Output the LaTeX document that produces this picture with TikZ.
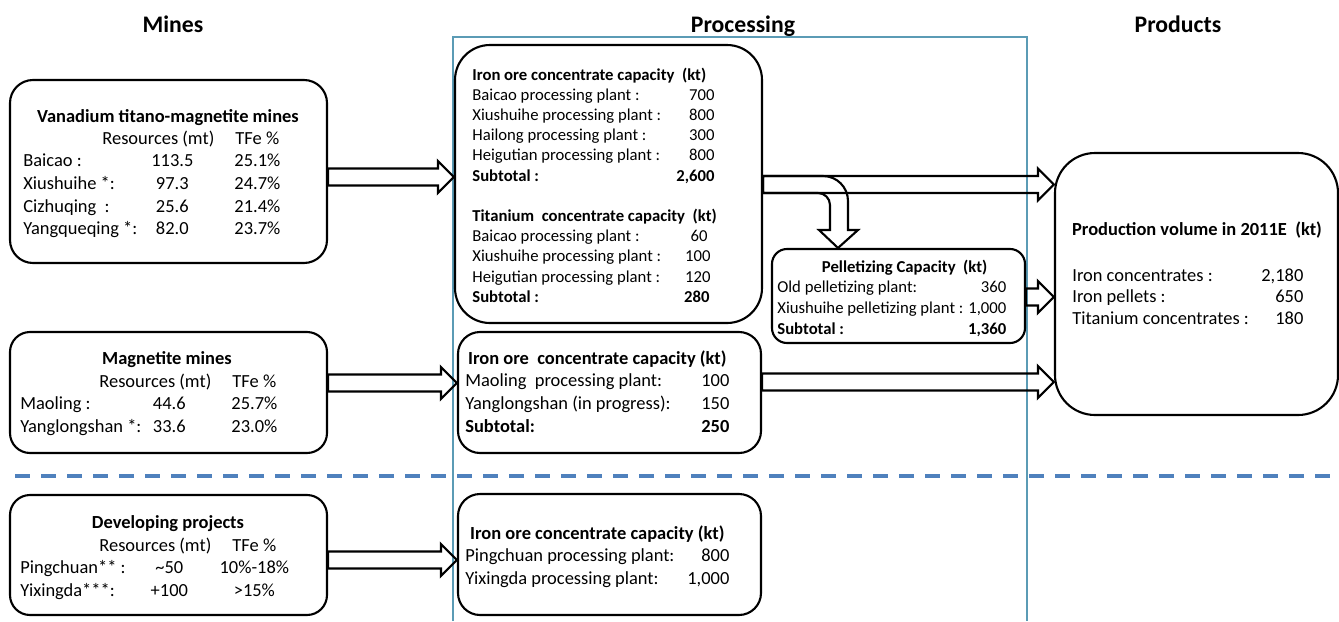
\documentclass[tikz,border=0pt]{standalone}
\usepackage{fontspec}
\setmainfont{Carlito}
\usepackage{array}
\usepackage{tikz}
\usetikzlibrary{calc,fit}

\newcolumntype{L}[1]{w{l}{#1}}
\newcolumntype{C}[1]{w{c}{#1}}
\newcolumntype{R}[1]{w{r}{#1}}

\definecolor{framecol}{HTML}{5B9BB5}
\definecolor{dashcol}{HTML}{4F81BD}

\newcommand{\fatarrow}[3]{%
	\draw[fatarr] let \p1=(#1), \p2=(#2), \p3=(0,#3) in
		(\x1,\y3+1.7mm) -- (\x2-3.2mm,\y3+1.7mm) -- (\x2-3.2mm,\y3+3.2mm) -- (\x2,\y3)
		-- (\x2-3.2mm,\y3-3.2mm) -- (\x2-3.2mm,\y3-1.7mm) -- (\x1,\y3-1.7mm) -- cycle;}

\begin{document}
\begin{tikzpicture}[x=0.2mm,y=-0.2mm]
				\tikzstyle{every node}=[inner sep=0pt]
				\tikzstyle{box}=[draw,line width=1.2pt,rounded corners=4mm]
				\tikzstyle{fatarr}=[draw,line width=1.2pt,line join=miter]
				\tikzstyle{head}=[font=\fontsize{13.5}{16}\selectfont\bfseries,anchor=base]
				\tikzstyle{minetxt}=[font=\fontsize{10.5}{12.9}\selectfont]
				\tikzstyle{minetitle}=[font=\fontsize{10.5}{12.9}\selectfont\bfseries,anchor=base]
				\tikzstyle{proctxt}=[font=\fontsize{9.5}{11.5}\selectfont]
				\tikzstyle{pelltxt}=[font=\fontsize{9.5}{11.8}\selectfont]
				\tikzstyle{prodtxt}=[font=\fontsize{10.5}{12.5}\selectfont]
				
				\useasboundingbox (0,0) rectangle (1339,621);
				
				\node[head] (hmines) at (173,32) {Mines};
				\node[head] (hproc) at (743,32) {Processing};
				\node[head] (hprod) at (1178,32) {Products};
				
				\draw[framecol,line width=0.6pt] (453,621) |- (1027,37) -- (1027,621);
				\draw[dashcol,line width=2.4pt,dash pattern=on 3mm off 2.2mm] (15,476) -- (1339,476);
				
				\node[box,rounded corners=4.6mm,fit={(10,80) (327,263)}] (vtm) {};
				\node[box,fit={(10,332) (327,453)}] (magmine) {};
				\node[box,fit={(10,495) (327,615)}] (devmine) {};
				\node[box,rounded corners=7mm,fit={(455,45) (762,323)}] (proc1) {};
				\node[box,rounded corners=4.4mm,fit={(458,332) (761,453)}] (proc2) {};
				\node[box,rounded corners=4.4mm,fit={(458,494) (761,615)}] (proc3) {};
				\node[box,rounded corners=3mm,fit={(772,249) (1025,343)}] (pellet) {};
				\node[box,rounded corners=8mm,fit={(1055,153) (1338,415)}] (prod) {};
				
				\node[minetitle] (vtmtitle) at (168,122) {Vanadium titano-magnetite mines};
				\node[minetxt,anchor=base west] (vtmtab) at (23,144) {%
					\begin{tabular}[t]{@{}L{23.4mm}@{}C{12.8mm}@{}C{21.2mm}@{}}
						& \makebox[0pt]{Resources (mt)\hspace*{5.6mm}} & TFe \% \\
						Baicao : & 113.5 & 25.1\% \\
						Xiushuihe *: & 97.3 & 24.7\% \\
						Cizhuqing\ \ : & 25.6 & 21.4\% \\
						Yangqueqing *: & 82.0 & 23.7\%
					\end{tabular}};
				
				\node[minetitle] (magtitle) at (167,364) {Magnetite mines};
				\node[minetxt,anchor=base west] (magtab) at (20,387) {%
					\begin{tabular}[t]{@{}L{23.4mm}@{}C{12.8mm}@{}C{21.2mm}@{}}
						& \makebox[0pt]{Resources (mt)\hspace*{5.6mm}} & TFe \% \\
						Maoling : & 44.6 & 25.7\% \\
						Yanglongshan *: & 33.6 & 23.0\%
					\end{tabular}};
				
				\node[minetitle] (devtitle) at (168,528) {Developing projects};
				\node[minetxt,anchor=base west] (devtab) at (20,551) {%
					\begin{tabular}[t]{@{}L{23.4mm}@{}C{12.8mm}@{}C{21.2mm}@{}}
						& \makebox[0pt]{Resources (mt)\hspace*{5.6mm}} & TFe \% \\
						Pingchuan** : & \textasciitilde 50 & 10\%-18\% \\
						Yixingda***: & +100 & >15\%
					\end{tabular}};
				
				\node[proctxt,anchor=base west] (proc1tab) at (472,80) {%
					\begin{tabular}[t]{@{}L{36mm}@{}R{12mm}@{}}
						\multicolumn{2}{@{}l@{}}{\textbf{Iron ore concentrate capacity\ \ (kt)}} \\
						Baicao processing plant : & 700 \\
						Xiushuihe processing plant : & 800 \\
						Hailong processing plant : & 300 \\
						Heigutian processing plant : & 800 \\
						\textbf{Subtotal :} & \textbf{2,600} \\
						\\
						\multicolumn{2}{@{}l@{}}{\textbf{Titanium\ \ concentrate capacity\ \ (kt)}} \\
						Baicao processing plant : & 60\hspace*{1.4mm} \\
						Xiushuihe processing plant : & 100\hspace*{0.8mm} \\
						Heigutian processing plant : & 120\hspace*{0.8mm} \\
						\textbf{Subtotal :} & \textbf{280}\hspace*{1mm}
					\end{tabular}};
				
				\node[minetxt,anchor=base west] (proc2tab) at (465,364) {%
					\begin{tabular}[t]{@{}L{40.8mm}@{}R{12mm}@{}}
						\multicolumn{2}{@{}c@{}}{\textbf{Iron ore\ \ concentrate capacity (kt)}} \\
						Maoling\ \ processing plant: & 100 \\
						Yanglongshan (in progress): & 150 \\
						\textbf{Subtotal:} & \textbf{250}
					\end{tabular}};
				
				\node[minetxt,anchor=base west] (proc3tab) at (465,539) {%
					\begin{tabular}[t]{@{}L{40.8mm}@{}R{12mm}@{}}
						\multicolumn{2}{@{}c@{}}{\textbf{Iron ore concentrate capacity (kt)}} \\
						Pingchuan processing plant: & 800 \\
						Yixingda processing plant: & 1,000
					\end{tabular}};
				
				\node[pelltxt,anchor=base west] (pelltab) at (777,272) {%
					\begin{tabular}[t]{@{}L{37mm}@{}R{8.8mm}@{}}
						\multicolumn{2}{@{}r@{\hspace{3.8mm}}}{\textbf{Pelletizing Capacity\ \ (kt)}} \\
						Old pelletizing plant: & 360 \\
						Xiushuihe pelletizing plant : & 1,000 \\
						\textbf{Subtotal :} & \textbf{1,360}
					\end{tabular}};
				
				\node[minetitle] (prodtitle) at (1197,235) {Production volume in 2011E\ \ (kt)};
				\node[prodtxt,anchor=base west] (prodtab) at (1072,281) {%
					\begin{tabular}[t]{@{}L{36mm}@{}R{10.2mm}@{}}
						Iron concentrates : & 2,180 \\
						Iron pellets : & 650 \\
						Titanium concentrates : & 180
					\end{tabular}};
				
				\fatarrow{vtm.east}{proc1.west}{177}
				\fatarrow{magmine.east}{proc2.west}{383}
				\fatarrow{devmine.east}{proc3.west}{560}
				\fatarrow{proc1.east}{prod.west}{184.5}
				\fatarrow{pellet.east}{prod.west}{297}
				\fatarrow{proc2.east}{prod.west}{382}
				
				\draw[fatarr] (proc1.east |- 0,176) -- (823,176) arc[start angle=90,end angle=0,radius=5mm]
					-- (848,230) -- (858,230) -- (pellet.north -| 838,0) -- (819,230) -- (830,230)
					-- (830,205) arc[start angle=0,end angle=90,radius=2.4mm] -- (proc1.east |- 0,193) -- cycle;
				
\end{tikzpicture}
\end{document}
